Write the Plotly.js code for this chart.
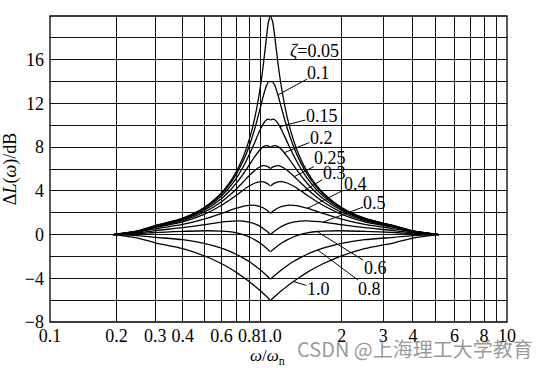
<!DOCTYPE html>
<html>
<head>
<meta charset="utf-8">
<script src="https://cdn.plot.ly/plotly-3.0.1.min.js"></script>
<style>
html,body{margin:0;padding:0;background:#fff;}
#chart{width:546px;height:368px;}
</style>
</head>
<body>
<div id="chart"></div>
<script>
// ω/ωn sample points
const freq = [0.194, 0.25, 0.3, 0.4, 0.5, 0.6, 0.65, 0.7, 0.75, 0.8, 0.85, 0.9, 0.93, 0.96, 0.98, 1.0,
              1.02, 1.042, 1.075, 1.111, 1.176, 1.25, 1.333, 1.429, 1.538, 1.667, 2.0, 2.5, 3.333, 4.0, 5.15];

// ΔL(ω) in dB for each damping ratio ζ
const dL_005 = [0, 0.34, 0.81, 1.50, 2.48, 3.84, 4.71, 5.77, 7.05, 8.66, 10.75, 13.55, 15.70, 18.14, 19.52, 20.00,
                19.52, 18.14, 15.70, 13.55, 10.75, 8.66, 7.05, 5.77, 4.71, 3.84, 2.48, 1.50, 0.81, 0.34, 0];
const dL_010 = [0, 0.33, 0.80, 1.48, 2.42, 3.73, 4.55, 5.53, 6.70, 8.09, 9.75, 11.64, 12.77, 13.66, 13.98, 13.98,
                13.98, 13.66, 12.77, 11.64, 9.75, 8.09, 6.70, 5.53, 4.55, 3.73, 2.42, 1.48, 0.80, 0.33, 0];
const dL_015 = [0, 0.32, 0.78, 1.43, 2.33, 3.55, 4.30, 5.17, 6.16, 7.28, 8.48, 9.63, 10.17, 10.50, 10.56, 10.46,
                10.56, 10.50, 10.17, 9.63, 8.48, 7.28, 6.16, 5.17, 4.30, 3.55, 2.33, 1.43, 0.78, 0.32, 0];
const dL_020 = [0, 0.31, 0.74, 1.36, 2.20, 3.30, 3.97, 4.70, 5.51, 6.35, 7.15, 7.81, 8.05, 8.14, 8.09, 7.96,
                8.09, 8.14, 8.05, 7.81, 7.15, 6.35, 5.51, 4.70, 3.97, 3.30, 2.20, 1.36, 0.74, 0.31, 0];
const dL_025 = [0, 0.29, 0.70, 1.27, 2.04, 3.01, 3.57, 4.17, 4.79, 5.38, 5.89, 6.22, 6.30, 6.26, 6.17, 6.02,
                6.17, 6.26, 6.30, 6.22, 5.89, 5.38, 4.79, 4.17, 3.57, 3.01, 2.04, 1.27, 0.70, 0.29, 0];
const dL_030 = [0, 0.27, 0.65, 1.17, 1.85, 2.68, 3.14, 3.60, 4.05, 4.44, 4.72, 4.85, 4.82, 4.71, 4.59, 4.44,
                4.59, 4.71, 4.82, 4.85, 4.72, 4.44, 4.05, 3.60, 3.14, 2.68, 1.85, 1.17, 0.65, 0.27, 0];
const dL_040 = [0, 0.22, 0.53, 0.93, 1.41, 1.94, 2.19, 2.41, 2.59, 2.68, 2.68, 2.56, 2.43, 2.25, 2.10, 1.94,
                2.10, 2.25, 2.43, 2.56, 2.68, 2.68, 2.59, 2.41, 2.19, 1.94, 1.41, 0.93, 0.53, 0.22, 0];
const dL_050 = [0, 0.16, 0.37, 0.63, 0.90, 1.14, 1.21, 1.25, 1.23, 1.14, 0.97, 0.73, 0.54, 0.33, 0.17, 0.00,
                0.17, 0.33, 0.54, 0.73, 0.97, 1.14, 1.23, 1.25, 1.21, 1.14, 0.90, 0.63, 0.37, 0.16, 0];
const dL_060 = [0, 0.08, 0.19, 0.29, 0.35, 0.32, 0.26, 0.15, -0.01, -0.22, -0.48, -0.80, -1.02, -1.25, -1.41, -1.58,
                -1.41, -1.25, -1.02, -0.80, -0.48, -0.22, -0.01, 0.15, 0.26, 0.32, 0.35, 0.29, 0.19, 0.08, 0];
const dL_080 = [0, -0.10, -0.25, -0.47, -0.80, -1.24, -1.51, -1.80, -2.13, -2.47, -2.85, -3.24, -3.49, -3.74, -3.91, -4.08,
                -3.91, -3.74, -3.49, -3.24, -2.85, -2.47, -2.13, -1.80, -1.51, -1.24, -0.80, -0.47, -0.25, -0.10, 0];
const dL_100 = [0, -0.32, -0.75, -1.29, -1.94, -2.67, -3.06, -3.46, -3.88, -4.30, -4.72, -5.15, -5.41, -5.67, -5.85, -6.02,
                -5.85, -5.67, -5.41, -5.15, -4.72, -4.30, -3.88, -3.46, -3.06, -2.67, -1.94, -1.29, -0.75, -0.32, 0];

const zetaLabels = ['0.05', '0.1', '0.15', '0.2', '0.25', '0.3', '0.4', '0.5', '0.6', '0.8', '1.0'];
const series = [dL_005, dL_010, dL_015, dL_020, dL_025, dL_030, dL_040, dL_050, dL_060, dL_080, dL_100];

// axis ticks
const xTickLowVals = [0.1, 0.2, 0.3, 0.4, 0.5, 0.6, 0.7, 0.8, 0.9, 1.0];
const xTickLowText = ['0.1', '0.2', '0.3', '0.4', ' ', '0.6', ' ', '0.8', ' ', '1.0'];
const xTickHighVals = [2, 3, 4, 5, 6, 7, 8, 9, 10];
const xTickHighText = ['2', '3', '4', ' ', '6', ' ', '8', ' ', '10'];
const yTickVals = [-8, -6, -4, -2, 0, 2, 4, 6, 8, 10, 12, 14, 16, 18, 20];
const yTickText = ['\u22128', ' ', '\u22124', ' ', '0', ' ', '4', ' ', '8', ' ', '12', ' ', '16', ' ', ' '];

// label leader heads on the curves (ω/ωn, dB) and text offsets (px)
const labelHeads = {
  '0.1':  [1.075, 12.77, 41, -22.5],
  '0.15': [1.095, 9.87, 42, -11],
  '0.2':  [1.1425, 7.49, 37, -15],
  '0.25': [1.261, 5.30, 36, -18.5],
  '0.3':  [1.361, 3.92, 32, -19],
  '0.4':  [1.434, 2.40, 47.5, -24],
  '0.5':  [1.667, 1.14, 52, -19.5],
  '0.6':  [1.573, 0.28, 58, 36],
  '0.8':  [1.586, -1.41, 52, 39],
  '1.0':  [1.25, -4.30, 25, 7.5]
};

const FONT = 'Liberation Serif, Times New Roman, serif';
const traces = [];
series.forEach((ys, k) => {
  const lx = [], ly = [], rx = [], ry = [];
  freq.forEach((f, i) => {
    if (f <= 1) { lx.push(f); ly.push(ys[i]); }
    if (f >= 1) { rx.push(f); ry.push(ys[i]); }
  });
  const line = {color: '#000', width: 1.3, shape: 'spline', smoothing: 0.8};
  traces.push({x: lx, y: ly, xaxis: 'x', yaxis: 'y', mode: 'lines', line: line, name: 'ζ=' + zetaLabels[k], showlegend: false, hoverinfo: 'skip'});
  traces.push({x: rx, y: ry, xaxis: 'x2', yaxis: 'y', mode: 'lines', line: line, name: 'ζ=' + zetaLabels[k], showlegend: false, hoverinfo: 'skip'});
});

const annotations = [];
Object.keys(labelHeads).forEach(lbl => {
  const h = labelHeads[lbl];
  annotations.push({
    x: Math.log10(h[0]), y: h[1], xref: 'x2', yref: 'y',
    ax: h[2], ay: h[3], axref: 'pixel', ayref: 'pixel',
    xanchor: 'center', yanchor: 'middle',
    text: lbl, showarrow: true, arrowhead: 0, arrowwidth: 1, arrowcolor: '#000',
    standoff: 0, startstandoff: 0, borderpad: 0,
    font: {family: FONT, size: 18, color: '#000'}
  });
});
annotations.push({
  xref: 'paper', yref: 'paper', x: 0.578, y: 0.886, xanchor: 'center', yanchor: 'middle', showarrow: false,
  text: '<i>ζ</i>=0.05', font: {family: FONT, size: 18, color: '#000'}
});
annotations.push({
  xref: 'paper', yref: 'paper', x: 0.477, y: -0.113, xanchor: 'center', yanchor: 'middle', showarrow: false,
  text: '<i>ω</i>/<i>ω</i><sub>n</sub>', font: {family: FONT, size: 17, color: '#000'}
});
annotations.push({
  xref: 'paper', yref: 'paper', x: 0.798, y: -0.088, xanchor: 'center', yanchor: 'middle', showarrow: false,
  text: 'CSDN @上海理工大学教育', font: {family: 'Noto Sans CJK SC, sans-serif', size: 20, color: 'rgba(120,120,120,0.75)'}
});

const gridStyle = {showgrid: true, gridcolor: '#111', gridwidth: 1, zeroline: false,
  showline: false, ticks: '', tickangle: 0,
  tickfont: {family: FONT, size: 18, color: '#000'}};

const layout = {
  width: 546, height: 368,
  margin: {l: 50, r: 39, t: 16, b: 46},
  paper_bgcolor: '#fff', plot_bgcolor: '#fff',
  showlegend: false,
  xaxis: Object.assign({}, gridStyle, {type: 'log', range: [-1, 0], domain: [0, 0.4825], anchor: 'y',
    tickmode: 'array', tickvals: xTickLowVals, ticktext: xTickLowText, ticklabelstandoff: 1}),
  xaxis2: Object.assign({}, gridStyle, {type: 'log', range: [0, 1], domain: [0.4825, 1], anchor: 'y',
    tickmode: 'array', tickvals: xTickHighVals, ticktext: xTickHighText, ticklabelstandoff: 1}),
  yaxis: Object.assign({}, gridStyle, {range: [-8, 20], anchor: 'x', tickmode: 'array',
    tickvals: yTickVals, ticktext: yTickText, ticklabelstandoff: 5,
    title: {text: 'Δ<i>L</i>(<i>ω</i>)/dB', font: {family: FONT, size: 18, color: '#000'}, standoff: 4}}),
  shapes: [
    {type: 'rect', xref: 'paper', yref: 'paper', x0: 0, x1: 1, y0: 0, y1: 1,
     line: {color: '#000', width: 1.3}, fillcolor: 'rgba(0,0,0,0)', layer: 'above'}
  ],
  annotations: annotations
};

Plotly.newPlot('chart', traces, layout, {staticPlot: true, displayModeBar: false});
</script>
</body>
</html>
